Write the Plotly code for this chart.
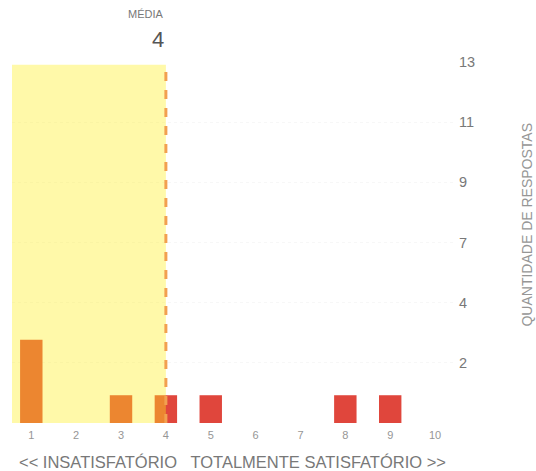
import plotly.graph_objects as go

COLORS = {
    "bar": "rgb(224, 70, 60)",
    "shade": "rgba(255, 240, 30, 0.38)",
    "mean_line": "rgb(242, 160, 80)",
    "text": "rgb(120, 120, 120)",
    "light_text": "rgb(150, 150, 150)",
    "grid": "rgb(247, 247, 247)",
}

scores = [1, 2, 3, 4, 5, 6, 7, 8, 9, 10]
answers = [3, 0, 1, 1, 1, 0, 0, 1, 1, 0]
mean_score = 4
y_tickvals = [2.17, 4.33, 6.5, 8.67, 10.83, 13]
y_ticktext = ["2", "4", "7", "9", "11", "13"]

X_RANGE = [0.57, 10.4]

LAYOUT = {
    "width": 536,
    "height": 471,
    "paper_bgcolor": "white",
    "plot_bgcolor": "white",
    "margin": {"l": 12, "r": 83, "t": 62, "b": 48, "autoexpand": False},
    "showlegend": False,
    "font": {"family": "Liberation Sans, Arial, sans-serif", "color": COLORS["text"]},
    "bargap": 0.5,
    "xaxis": {
        "range": X_RANGE,
        "automargin": False,
        "tickvals": scores,
        "tickfont": {"size": 11, "color": COLORS["light_text"]},
        "ticklabelstandoff": 4,
        "showgrid": False,
        "zeroline": False,
        "showline": False,
        "ticks": "",
    },
    "yaxis": {
        "range": [0, 13],
        "automargin": False,
        "side": "right",
        "tickvals": y_tickvals,
        "ticktext": y_ticktext,
        "tickfont": {"size": 14.5, "color": COLORS["text"]},
        "ticklabelstandoff": 5,
        "showgrid": True,
        "gridcolor": COLORS["grid"],
        "griddash": "dot",
        "zeroline": False,
        "showline": False,
        "ticks": "",
    },
}

fig = go.Figure(layout=LAYOUT)
fig.add_trace(
    go.Bar(
        x=scores,
        y=answers,
        marker={"color": COLORS["bar"], "line": {"width": 0}},
        hovertemplate="%{x}: %{y}<extra></extra>",
    )
)

# shaded area up to the mean, drawn over the bars
fig.add_shape(
    type="rect",
    xref="paper",
    yref="y",
    x0=0,
    y0=0,
    x1=(mean_score - X_RANGE[0]) / (X_RANGE[1] - X_RANGE[0]),
    y1=12.9,
    fillcolor=COLORS["shade"],
    line={"width": 0},
    layer="above",
)
fig.add_shape(
    type="line",
    xref="x",
    yref="y",
    x0=mean_score,
    x1=mean_score,
    y0=0,
    y1=12.9,
    line={"color": COLORS["mean_line"], "width": 3, "dash": "dash"},
    layer="above",
)

fig.add_annotation(
    x=mean_score,
    y=1.061,
    xref="x",
    yref="paper",
    xanchor="right",
    yanchor="middle",
    text=str(mean_score),
    showarrow=False,
    font={"size": 22, "color": "rgb(85, 85, 85)"},
)
fig.add_annotation(
    x=mean_score,
    y=1.133,
    xref="x",
    yref="paper",
    xanchor="right",
    yanchor="middle",
    text="MÉDIA",
    showarrow=False,
    font={"size": 11, "color": COLORS["text"]},
)
fig.add_annotation(
    x=0.5,
    y=-0.108,
    xref="paper",
    yref="paper",
    xanchor="center",
    yanchor="middle",
    text="<< INSATISFATÓRIO   TOTALMENTE SATISFATÓRIO >>",
    showarrow=False,
    font={"size": 16.5, "color": COLORS["text"]},
)
fig.add_annotation(
    x=1.168,
    y=0.55,
    xref="paper",
    yref="paper",
    xanchor="center",
    yanchor="middle",
    textangle=-90,
    text="QUANTIDADE DE RESPOSTAS",
    showarrow=False,
    font={"size": 14, "color": COLORS["light_text"]},
)

# the page's default body margin would push the fixed-size figure off the window
fig.write_html(
    "out.html",
    config={"displayModeBar": False},
    post_script="document.body.style.margin = '0';",
)
